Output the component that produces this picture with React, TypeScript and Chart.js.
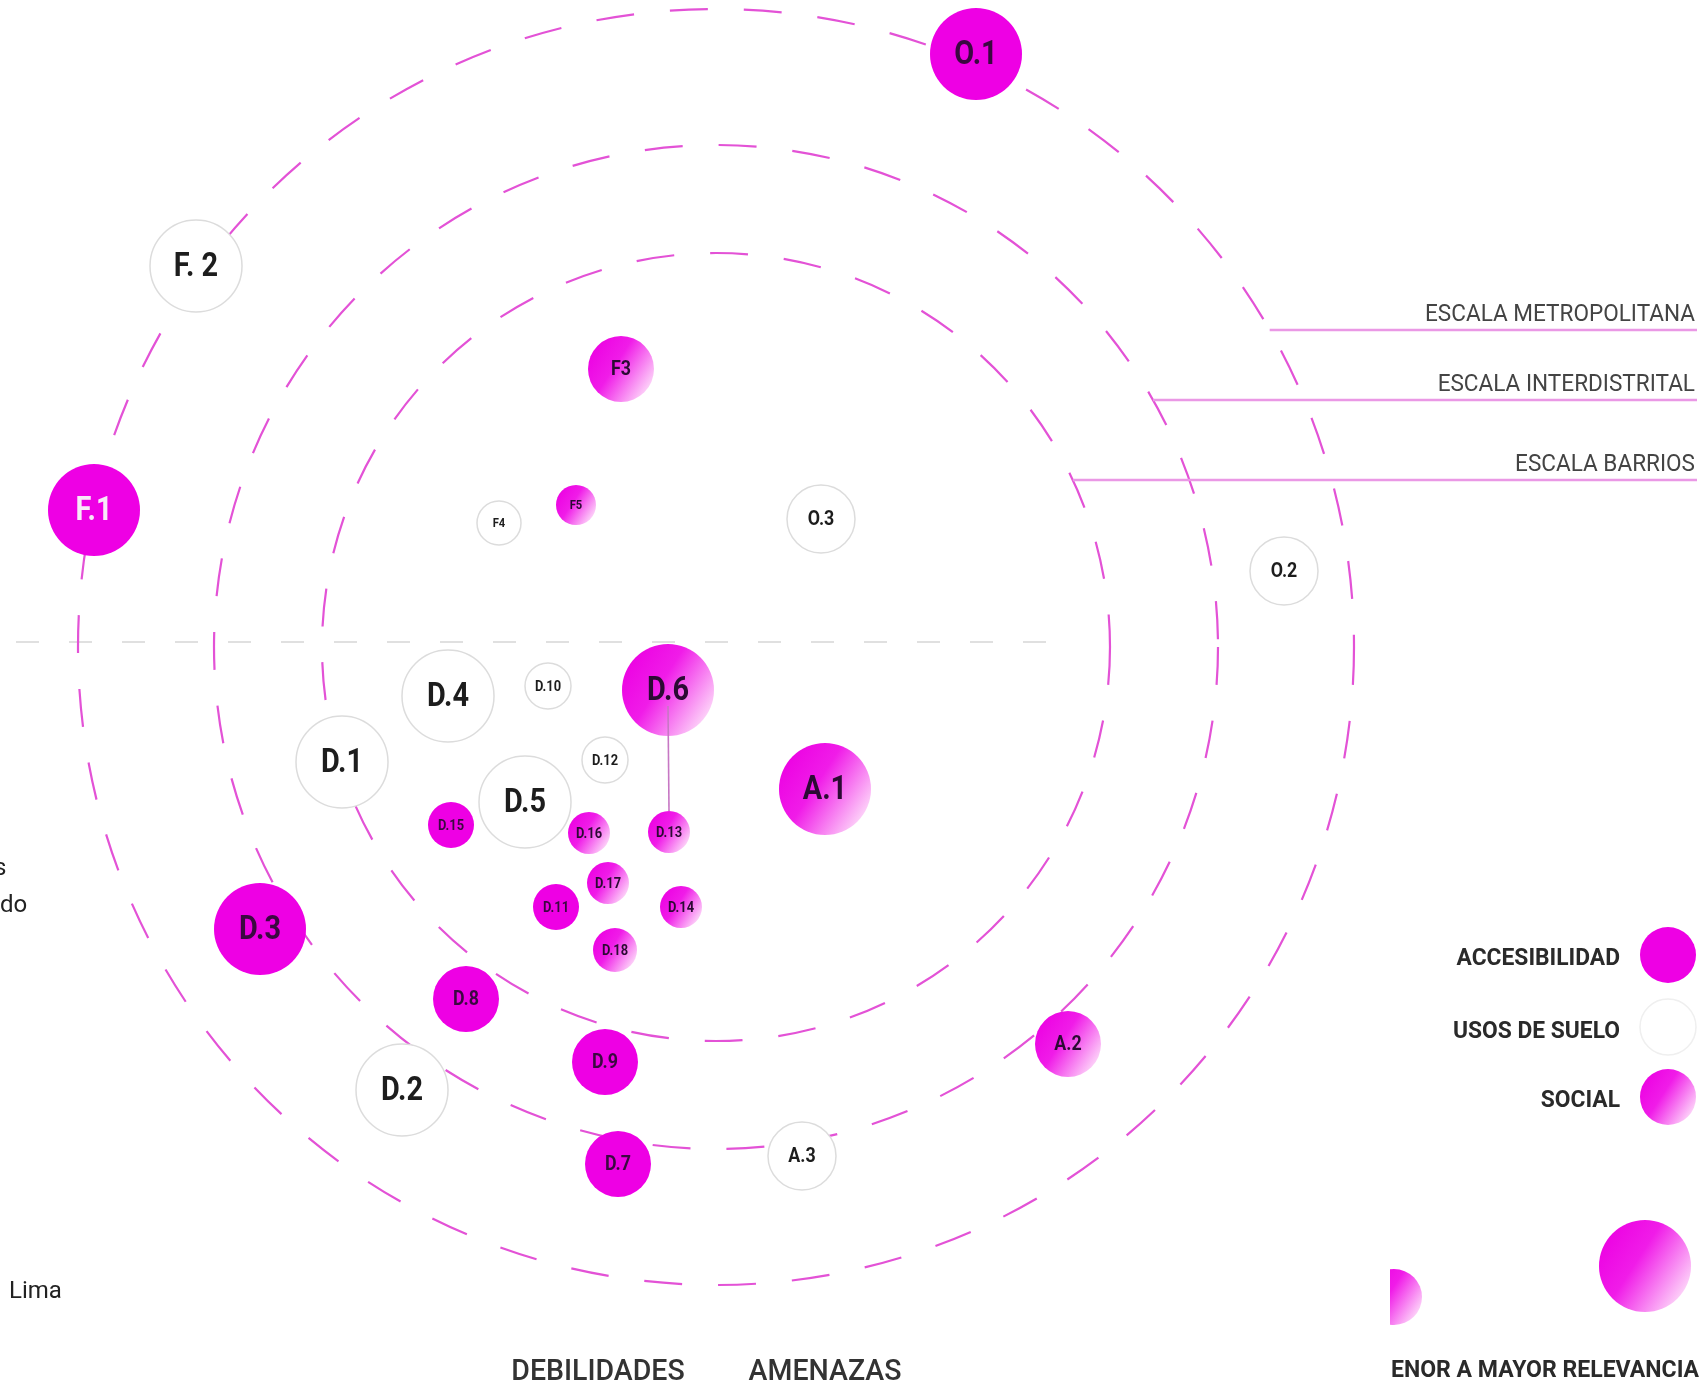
import React, { useEffect, useRef } from "react";
import { Chart, registerables } from "chart.js";

Chart.register(...registerables);

// ---------- DATA ----------
const LABELS = ["O.1", "F. 2", "F.1", "F3", "F4", "F5", "O.3", "O.2", "D.4", "D.10", "D.6", "D.1", "D.12", "A.1", "D.5", "D.15", "D.16", "D.13", "D.17", "D.11", "D.14", "D.18", "D.3", "D.8", "D.9", "A.2", "D.2", "D.7", "A.3"];
const CATEGORY = ["acc", "uso", "acc", "soc", "uso", "soc", "uso", "uso", "uso", "uso", "soc", "uso", "uso", "soc", "uso", "acc", "soc", "soc", "soc", "acc", "soc", "soc", "acc", "acc", "acc", "soc", "uso", "acc", "uso"];
const X_VALUES = [260, -520, -622, -95, -217, -140, 105, 568, -268, -168, -48, -374, -111, 109, -191, -265, -127, -47, -108, -160, -35, -101, -456, -250, -111, 352, -314, -98, 86];
const Y_VALUES = [593, 381, 137, 278, 124, 142, 128, 76, -49, -39, -43, -115, -113, -142, -155, -178, -186, -185, -236, -260, -260, -303, -282, -352, -415, -397, -443, -517, -509];
const SIZES = [46, 46, 46, 33, 22, 20, 34, 34, 46, 23, 46, 46, 23, 46, 46, 23, 21, 21, 21, 23, 21, 22, 46, 33, 33, 33, 46, 33, 34];

const CATEGORY_KEYS = ["acc", "uso", "soc"];
const CATEGORY_NAMES = ["ACCESIBILIDAD", "USOS DE SUELO", "SOCIAL"];

const RING_RADII = [394, 502, 638];
const RING_NAMES = ["ESCALA BARRIOS", "ESCALA INTERDISTRITAL", "ESCALA METROPOLITANA"];
const RING_LABEL_Y = [167, 247, 317];

const DIVIDER = { y: 5, from: -700, to: 336 };
const CONNECTOR = ["D.6", "D.13"];
const AXIS_LABELS = ["DEBILIDADES", "AMENAZAS"];
const SIZE_LEGEND = "ENOR A MAYOR RELEVANCIA";
const SIDE_FRAGMENTS = ["s", "do", "Lima"];

const X_MIN = -716, X_MAX = 984, Y_MIN = -737, Y_MAX = 647;

// ---------- STYLE ----------
const MAGENTA = "#EE00E4";
const RING_COLOR = "#E352D6";
const LIGHT_LABELS = ["F.1"];

function socialGradient(c: CanvasRenderingContext2D, x: number, y: number, r: number): any {
  if (![x, y, r].every((v) => Number.isFinite(v)) || r <= 0) return MAGENTA;
  const g = c.createLinearGradient(x - r, y - r * 0.6, x + r, y + r * 0.7);
  g.addColorStop(0, "#EC00E2");
  g.addColorStop(0.4, "#F01CE8");
  g.addColorStop(1, "#FFEEFB");
  return g;
}

function condText(c: CanvasRenderingContext2D, text: string, x: number, y: number, font: string, color: string, align: CanvasTextAlign, sx: number, baseline: CanvasTextBaseline = "alphabetic") {
  c.save();
  c.font = font;
  c.fillStyle = color;
  c.textAlign = align;
  c.textBaseline = baseline;
  c.translate(x, y);
  c.scale(sx, 1);
  c.fillText(text, 0, 0);
  c.restore();
}

function drawBubble(c: CanvasRenderingContext2D, cat: string, x: number, y: number, r: number, border = "#dcdcdc") {
  c.save();
  c.beginPath();
  c.arc(x, y, r, 0, Math.PI * 2);
  if (cat === "acc") {
    c.fillStyle = MAGENTA;
    c.fill();
  } else if (cat === "soc") {
    c.fillStyle = socialGradient(c, x, y, r);
    c.fill();
  } else {
    c.fillStyle = "#ffffff";
    c.fill();
    c.strokeStyle = border;
    c.lineWidth = 1.5;
    c.stroke();
  }
  c.restore();
}

const diagramPlugin = {
  id: "diagram",
  beforeDatasetsDraw(chart: any) {
    const c: CanvasRenderingContext2D = chart.ctx;
    const xs = chart.scales.x, ys = chart.scales.y;
    const cx = xs.getPixelForValue(0), cy = ys.getPixelForValue(0);
    const k = xs.getPixelForValue(1) - cx;
    c.save();
    // divider
    c.strokeStyle = "#d6d6d6";
    c.lineWidth = 1.5;
    c.setLineDash([23, 30]);
    c.beginPath();
    const dy = ys.getPixelForValue(DIVIDER.y);
    c.moveTo(xs.getPixelForValue(DIVIDER.from), dy);
    c.lineTo(xs.getPixelForValue(DIVIDER.to), dy);
    c.stroke();
    // rings
    c.strokeStyle = RING_COLOR;
    c.lineWidth = 2.2;
    c.setLineDash([38, 36]);
    RING_RADII.forEach((rr) => {
      c.beginPath();
      c.arc(cx, cy, rr * k, 0, Math.PI * 2);
      c.stroke();
    });
    c.setLineDash([]);
    // ring scale lines + names
    RING_RADII.forEach((rr, i) => {
      const ly = ys.getPixelForValue(RING_LABEL_Y[i]);
      const R = rr * k;
      const ddy = cy - ly;
      const lx = cx + Math.sqrt(Math.max(0, R * R - ddy * ddy));
      const right = chart.width - 3;
      c.strokeStyle = "#EA98E5";
      c.lineWidth = 2.5;
      c.beginPath();
      c.moveTo(lx, ly);
      c.lineTo(right, ly);
      c.stroke();
      condText(c, RING_NAMES[i], chart.width - 5, ly - 9, "400 24px Roboto", "#444444", "right", 0.94);
    });
    c.restore();
  },
  afterDatasetsDraw(chart: any) {
    const c: CanvasRenderingContext2D = chart.ctx;
    const els: Record<string, any> = {};
    chart.data.datasets.forEach((ds: any, di: number) => {
      const meta = chart.getDatasetMeta(di);
      meta.data.forEach((el: any, j: number) => {
        const raw = ds.data[j];
        els[raw.name] = { el, raw, cat: ds.cat };
      });
    });
    // connector
    const a = els[CONNECTOR[0]], b = els[CONNECTOR[1]];
    if (a && b) {
      c.save();
      c.strokeStyle = "#C777C4";
      c.lineWidth = 1.6;
      c.beginPath();
      c.moveTo(a.el.x, a.el.y + 16);
      c.lineTo(b.el.x, b.el.y - b.raw.r);
      c.stroke();
      c.restore();
    }
    // bubble labels
    Object.keys(els).forEach((name) => {
      const { el, raw, cat } = els[name];
      const r = raw.r;
      let size = r >= 40 ? 34 : r >= 30 ? 21 : 15;
      let sx = r >= 40 ? 0.85 : r >= 30 ? 0.85 : 0.86;
      if (r < 30 && name.length <= 2) size = 13;
      let color = cat === "uso" ? "#1d1d1d" : cat === "acc" ? "#3a0840" : "#2b0a33";
      if (LIGHT_LABELS.includes(name)) color = "#f8eaf8";
      condText(c, name, el.x, el.y + 1, `700 ${size}px Roboto`, color, "center", sx, "middle");
    });
    // category legend
    const legY = [955, 1027, 1097];
    const legBase = [965, 1038, 1107];
    CATEGORY_KEYS.forEach((key, i) => {
      drawBubble(c, key, 1668, legY[i], 28, "#efefef");
      condText(c, CATEGORY_NAMES[i], 1620, legBase[i], "700 24px Roboto", "#2a2a2a", "right", 0.95);
    });
    // size legend (clipped box)
    c.save();
    c.beginPath();
    c.rect(1390, 1200, 320, 190);
    c.clip();
    drawBubble(c, "soc", 1394, 1297, 28);
    drawBubble(c, "soc", 1645, 1266, 46);
    c.restore();
    condText(c, SIZE_LEGEND, 1391, 1377, "700 24px Roboto", "#2a2a2a", "left", 0.96);
    // axis labels
    condText(c, AXIS_LABELS[0], 598, 1380, "500 30px Roboto", "#333333", "center", 0.95);
    condText(c, AXIS_LABELS[1], 825, 1380, "500 30px Roboto", "#333333", "center", 0.95);
    // left-edge text fragments
    condText(c, SIDE_FRAGMENTS[0], -6, 875, "400 24px Roboto", "#222222", "left", 1);
    condText(c, SIDE_FRAGMENTS[1], 0, 912, "400 24px Roboto", "#222222", "left", 1);
    condText(c, SIDE_FRAGMENTS[2], 9, 1298, "400 24px Roboto", "#222222", "left", 1);
  },
};

export default function App() {
  const ref = useRef<HTMLCanvasElement | null>(null);
  useEffect(() => {
    document.body.style.margin = "0";
    const canvas = ref.current;
    if (!canvas) return;
    const datasets = CATEGORY_KEYS.map((key, ci) => {
      const idx = LABELS.map((_, i) => i).filter((i) => CATEGORY[i] === key);
      return {
        label: CATEGORY_NAMES[ci],
        cat: key,
        data: idx.map((i) => ({ x: X_VALUES[i], y: Y_VALUES[i], r: SIZES[i], name: LABELS[i] })),
        backgroundColor: (ctx: any) => {
          if (key === "acc") return MAGENTA;
          if (key === "uso") return "#ffffff";
          const chart = ctx.chart;
          const raw = ctx.raw;
          if (!raw || !chart || !chart.scales || !chart.scales.x || !chart.scales.y) return MAGENTA;
          const px = chart.scales.x.getPixelForValue(raw.x);
          const py = chart.scales.y.getPixelForValue(raw.y);
          return socialGradient(chart.ctx, px, py, raw.r);
        },
        borderColor: key === "uso" ? "#dcdcdc" : "rgba(0,0,0,0)",
        borderWidth: key === "uso" ? 1.5 : 0,
        hoverRadius: 0,
        clip: false,
      } as any;
    });
    const chart = new Chart(canvas, {
      type: "bubble",
      data: { datasets },
      options: {
        animation: false,
        responsive: false,
        events: [],
        layout: { padding: 0, autoPadding: false },
        plugins: { legend: { display: false }, tooltip: { enabled: false } },
        scales: {
          x: { type: "linear", min: X_MIN, max: X_MAX, display: false },
          y: { type: "linear", min: Y_MIN, max: Y_MAX, display: false },
        },
      } as any,
      plugins: [diagramPlugin as any],
    });
    return () => chart.destroy();
  }, []);
  return (
    <div style={{ width: 1700, height: 1384, position: "relative", background: "#ffffff" }}>
      <canvas ref={ref} width={1700} height={1384} style={{ display: "block", width: 1700, height: 1384 }} />
    </div>
  );
}
